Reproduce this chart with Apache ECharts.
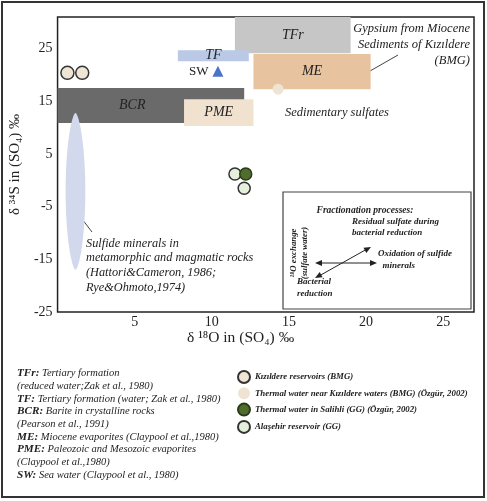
<!DOCTYPE html>
<html>
<head>
<meta charset="utf-8">
<script src="https://cdn.jsdelivr.net/npm/echarts@6.0.0/dist/echarts.min.js"></script>
<style>
  html, body { margin: 0; padding: 0; background: #fff; }
  #mainPlot { width: 487px; height: 501px; }
</style>
</head>
<body>
<div id="mainPlot"></div>
<script>
// field boxes, [x0, x1] in d18O and [y0, y1] in d34S
const regionNames = ["TFr", "TF", "ME", "BCR", "PME"];
const regionX = [[11.5, 19.0], [7.8, 12.4], [12.7, 20.3], [0, 12.1], [8.2, 12.7]];
const regionY = [[24.1, 31], [22.6, 24.7], [17.3, 24.0], [10.9, 17.5], [10.3, 15.4]];

// sulfide minerals field (ellipse bounds)
const sulfideX = [0.52, 1.8];
const sulfideY = [-17.0, 12.8];

// samples [d18O, d34S]
const kizildereRes = [[0.64, 20.4], [1.6, 20.4]];
const nearKizildere = [[14.3, 17.3]];
const alasehir = [[11.5, 1.2], [12.1, -1.5]];
const salihli = [[12.2, 1.2]];
const seaWater = [[10.4, 20.7]];

const xTicks = [5, 10, 15, 20, 25];
const yTicks = [-25, -15, -5, 5, 15, 25];

const regionColors = {
  TFr: "#c6c6c6",
  TF: "#b9c9e6",
  ME: "#e7c49f",
  BCR: "#6a6a6a",
  PME: "#f1e2cf",
};

const serif = "'Liberation Serif', 'DejaVu Serif', serif";

const chart = echarts.init(document.getElementById("mainPlot"));

const option = {
  animation: false,
  grid: {
    left: 55, top: 17, right: 13, bottom: 189,
    show: true, borderColor: "#222", borderWidth: 1.5,
  },
  xAxis: {
    type: "value", min: 0, max: 27, interval: 5,
    axisLine: { show: false }, axisTick: { show: false }, splitLine: { show: false },
    axisLabel: {
      margin: 3, fontSize: 14, color: "#222", fontFamily: serif,
      formatter: (v) => (xTicks.includes(v) ? String(v) : ""),
    },
  },
  yAxis: {
    type: "value", min: -25, max: 31, interval: 10,
    axisLine: { show: false }, axisTick: { show: false }, splitLine: { show: false },
    name: "δ ³⁴S in (SO₄) ‰", nameLocation: "middle", nameGap: 25, nameRotate: 90,
    nameTextStyle: { fontSize: 15, color: "#222", fontFamily: serif },
    axisLabel: {
      margin: 5, fontSize: 14, color: "#222", fontFamily: serif, showMaxLabel: false,
      formatter: (v) => (yTicks.includes(v) ? String(v) : ""),
    },
  },
  legend: {
    orient: "vertical", left: 232, top: 365, itemWidth: 12, itemHeight: 12, itemGap: 3.3,
    selectedMode: false,
    textStyle: { fontStyle: "italic", fontWeight: "bold", fontSize: 8.8, color: "#222", fontFamily: serif },
    data: [
      "Kızıldere reservoirs (BMG)",
      "Thermal water near Kızıldere waters (BMG) (Özgür, 2002)",
      "Thermal water in Salihli (GG) (Özgür, 2002)",
      "Alaşehir reservoir (GG)",
    ],
  },
  series: [
    {
      type: "custom", name: "fields", silent: true,
      data: regionNames.map((n, i) => [regionX[i][0], regionX[i][1], regionY[i][0], regionY[i][1]]),
      renderItem(params, api) {
        const name = regionNames[params.dataIndex];
        const p0 = api.coord([api.value(0), api.value(3)]);
        const p1 = api.coord([api.value(1), api.value(2)]);
        // BCR label sits left of the PME box that covers its right side
        const lx = name === "BCR" ? p0[0] + (p1[0] - p0[0]) * 0.4 : (p0[0] + p1[0]) / 2;
        return {
          type: "group",
          children: [
            { type: "rect", shape: { x: p0[0], y: p0[1], width: p1[0] - p0[0], height: p1[1] - p0[1] },
              style: { fill: regionColors[name] } },
            { type: "text", style: {
                text: name, x: lx, y: (p0[1] + p1[1]) / 2,
                align: "center", verticalAlign: "middle", fill: "#222",
                font: "italic 14px " + serif } },
          ],
        };
      },
    },
    {
      type: "custom", name: "sulfide", silent: true,
      data: [[sulfideX[0], sulfideX[1], sulfideY[0], sulfideY[1]]],
      renderItem(params, api) {
        const p0 = api.coord([api.value(0), api.value(3)]);
        const p1 = api.coord([api.value(1), api.value(2)]);
        const cx = (p0[0] + p1[0]) / 2, cy = (p0[1] + p1[1]) / 2;
        const rx = (p1[0] - p0[0]) / 2, ry = (p1[1] - p0[1]) / 2;
        const pts = [];
        for (let k = 0; k < 96; k++) {
          const t = (k / 96) * Math.PI * 2;
          const c = Math.cos(t);
          pts.push([cx + rx * Math.sign(c) * Math.pow(Math.abs(c), 1.25), cy + ry * Math.sin(t)]);
        }
        return { type: "polygon", shape: { points: pts }, style: { fill: "#d2d9ed" } };
      },
    },
    {
      type: "scatter", name: "Kızıldere reservoirs (BMG)", data: kizildereRes, symbolSize: 13,
      itemStyle: { color: "#efe5d5", borderColor: "#333", borderWidth: 1.5, opacity: 1 },
    },
    {
      type: "scatter", name: "Thermal water near Kızıldere waters (BMG) (Özgür, 2002)", data: nearKizildere, symbolSize: 11,
      itemStyle: { color: "#efe3d4", opacity: 1 },
    },
    {
      type: "scatter", name: "Alaşehir reservoir (GG)", data: alasehir, symbolSize: 12,
      itemStyle: { color: "#e6eedc", borderColor: "#333", borderWidth: 1.5, opacity: 1 },
    },
    {
      type: "scatter", name: "Thermal water in Salihli (GG) (Özgür, 2002)", data: salihli, symbolSize: 12,
      itemStyle: { color: "#4f6e2e", borderColor: "#2a3a1a", borderWidth: 1.5, opacity: 1 },
    },
    {
      type: "scatter", name: "SW", data: seaWater, symbol: "triangle", symbolSize: 11,
      itemStyle: { color: "#4a74c9", opacity: 1 },
      label: { show: true, position: "left", distance: 4, formatter: "SW", fontSize: 13, color: "#222", fontFamily: serif },
    },
  ],
  graphic: [
    { type: "rect", shape: { x: 2, y: 2, width: 482, height: 495 }, style: { fill: "none", stroke: "#333", lineWidth: 2 }, silent: true },
    { type: "text", left: 187, top: 330, style: { text: "δ ¹⁸O in (SO₄) ‰", font: "15.5px " + serif, fill: "#222" } },
    { type: "text", x: 470, y: 21, style: {
        text: "Gypsium from Miocene\nSediments of Kızıldere\n(BMG)", align: "right",
        font: "italic 12.5px " + serif, lineHeight: 16, fill: "#222" } },
    { type: "line", shape: { x1: 370, y1: 71, x2: 398, y2: 55 }, style: { stroke: "#444", lineWidth: 1 } },
    { type: "text", x: 285, y: 106, style: { text: "Sedimentary sulfates", font: "italic 12.5px " + serif, fill: "#222" } },
    { type: "line", shape: { x1: 82, y1: 219, x2: 92, y2: 232 }, style: { stroke: "#444", lineWidth: 1 } },
    { type: "text", x: 86, y: 236, style: {
        text: "Sulfide minerals in\nmetamorphic and magmatic rocks\n(Hattori&Cameron, 1986;\nRye&Ohmoto,1974)",
        font: "italic 12.3px " + serif, lineHeight: 14.8, fill: "#222" } },
    // fractionation inset
    { type: "rect", shape: { x: 283, y: 192, width: 188, height: 117 }, style: { fill: "#fff", stroke: "#444", lineWidth: 1.2 } },
    { type: "text", x: 365, y: 211, style: { text: "Fractionation processes:", align: "center", verticalAlign: "middle",
        font: "italic bold 9.5px " + serif, fill: "#222" } },
    { type: "text", x: 352, y: 227, style: { text: "Residual sulfate during\nbacterial reduction", verticalAlign: "middle",
        font: "italic bold 9px " + serif, lineHeight: 11, fill: "#222" } },
    { type: "text", x: 378, y: 260, style: { text: "Oxidation of sulfide\n  minerals", verticalAlign: "middle",
        font: "italic bold 9px " + serif, lineHeight: 12, fill: "#222" } },
    { type: "text", x: 297, y: 288, style: { text: "Bacterial\nreduction", verticalAlign: "middle",
        font: "italic bold 9px " + serif, lineHeight: 12, fill: "#222" } },
    { type: "text", x: 299, y: 253, rotation: Math.PI / 2, style: { text: "¹⁸O exchange\n(sulfate water)",
        align: "center", verticalAlign: "middle", font: "italic bold 8.8px " + serif, lineHeight: 11, fill: "#222" } },
    { type: "line", shape: { x1: 319, y1: 263, x2: 373, y2: 263 }, style: { stroke: "#222", lineWidth: 1 } },
    { type: "polygon", shape: { points: [[315, 263], [322, 260], [322, 266]] }, style: { fill: "#222" } },
    { type: "polygon", shape: { points: [[377, 263], [370, 260], [370, 266]] }, style: { fill: "#222" } },
    { type: "line", shape: { x1: 319, y1: 276, x2: 367, y2: 249 }, style: { stroke: "#222", lineWidth: 1 } },
    { type: "polygon", shape: { points: [[371, 247], [366.3, 253], [363.5, 247.8]] }, style: { fill: "#222" } },
    { type: "polygon", shape: { points: [[315, 278], [322.5, 277.2], [319.7, 272]] }, style: { fill: "#222" } },
    // left key
    { type: "text", x: 17, y: 367, style: {
        text: [
          "{b|TFr:} Tertiary formation",
          "(reduced water;Zak et al., 1980)",
          "{b|TF:} Tertiary formation (water; Zak et al., 1980)",
          "{b|BCR:} Barite in crystalline rocks",
          "(Pearson et al., 1991)",
          "{b|ME:} Miocene evaporites (Claypool et al.,1980)",
          "{b|PME:} Paleozoic and Mesozoic evaporites",
          "(Claypool et al.,1980)",
          "{b|SW:} Sea water (Claypool et al., 1980)",
        ].join("\n"),
        font: "italic 10.5px " + serif, lineHeight: 12.7, fill: "#222",
        rich: { b: { fontWeight: "bold", fontStyle: "italic", fontSize: 11.2, fontFamily: serif, lineHeight: 12.7, fill: "#222" } },
      } },
  ],
};

chart.setOption(option);
window.addEventListener("resize", () => {
  chart.resize();
});
</script>
</body>
</html>
